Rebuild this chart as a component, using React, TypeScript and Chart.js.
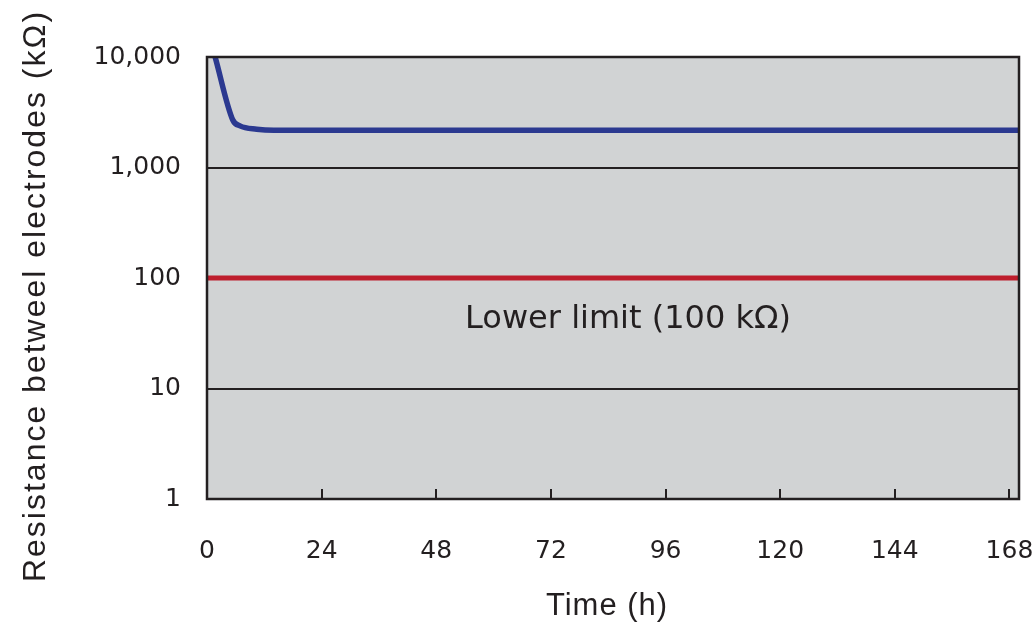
import React, { useEffect, useRef } from "react";
import { Chart, registerables } from "chart.js";

Chart.register(...registerables);

// Data
const timeHours = [1.7, 5.4, 6.9, 10.4, 14, 170];
const resistanceKOhm = [10000, 2690, 2380, 2220, 2170, 2170];
const limitHours = [0, 170];
const limitKOhm = [100, 100];
const xTickValues = [0, 24, 48, 72, 96, 120, 144, 168];
const yTickValues = [1, 10, 100, 1000, 10000];
const xTitle = "Time (h)";
const yTitle = "Resistance betweel electrodes (kΩ)";
const limitLabel = "Lower limit (100 kΩ)";

const INK = "#231f20";

const decorPlugin = {
  id: "decor",
  beforeDraw(chart: any) {
    const { ctx, chartArea } = chart;
    ctx.save();
    ctx.fillStyle = "#d1d3d4";
    ctx.fillRect(chartArea.left, chartArea.top, chartArea.right - chartArea.left, chartArea.bottom - chartArea.top);
    ctx.restore();
  },
  afterDraw(chart: any) {
    const { ctx, chartArea, scales } = chart;
    ctx.save();
    // inner tick marks on x axis
    ctx.strokeStyle = INK;
    ctx.lineWidth = 2;
    xTickValues.forEach((v) => {
      const px = Math.round(scales.x.getPixelForValue(v));
      ctx.beginPath();
      ctx.moveTo(px, chartArea.bottom);
      ctx.lineTo(px, chartArea.bottom - 10);
      ctx.stroke();
    });
    // frame
    ctx.lineWidth = 2.5;
    ctx.strokeRect(chartArea.left, chartArea.top, chartArea.right - chartArea.left, chartArea.bottom - chartArea.top);

    // annotation
    ctx.fillStyle = INK;
    ctx.font = "32px 'DejaVu Sans'";
    ctx.textAlign = "center";
    ctx.textBaseline = "alphabetic";
    const cx = (chartArea.left + chartArea.right) / 2 + 15;
    ctx.fillText(limitLabel, cx, scales.y.getPixelForValue(100) + 50);

    // axis titles
    (ctx as any).letterSpacing = "1px";
    ctx.font = "31px 'Liberation Sans'";
    ctx.fillText(xTitle, (chartArea.left + chartArea.right) / 2 - 6, 615);

    (ctx as any).letterSpacing = "2px";
    ctx.font = "32px 'Liberation Sans'";
    ctx.translate(45, 296);
    ctx.rotate(-Math.PI / 2);
    ctx.fillText(yTitle, 0, 0);
    ctx.restore();
  },
};

export default function App() {
  const ref = useRef<HTMLCanvasElement | null>(null);

  useEffect(() => {
    if (!ref.current) return;
    const chart = new Chart(ref.current, {
      type: "line",
      data: {
        datasets: [
          {
            label: "Lower limit",
            data: limitHours.map((x, i) => ({ x, y: limitKOhm[i] })),
            borderColor: "#be1e2d",
            borderWidth: 5,
            pointRadius: 0,
            clip: 0,
          },
          {
            label: "Resistance",
            data: timeHours.map((x, i) => ({ x, y: resistanceKOhm[i] })),
            borderColor: "#2b3990",
            borderWidth: 5.5,
            pointRadius: 0,
            cubicInterpolationMode: "monotone",
            clip: 0,
          },
        ],
      },
      options: {
        animation: false,
        responsive: false,
        devicePixelRatio: 1,
        layout: { padding: { top: 57, right: 16, left: 0, bottom: 0 } },
        plugins: {
          legend: { display: false },
          tooltip: { enabled: false },
        },
        scales: {
          x: {
            type: "linear",
            min: 0,
            max: 170,
            afterBuildTicks: (s: any) => {
              s.ticks = xTickValues.map((value) => ({ value }));
            },
            afterFit: (s: any) => {
              s.height = 127;
              s.paddingLeft = 0;
              s.paddingRight = 0;
            },
            ticks: {
              autoSkip: false,
              maxRotation: 0,
              padding: 37,
              color: INK,
              font: { family: "'DejaVu Sans'", size: 25 },
            },
            grid: { display: false, drawTicks: false },
            border: { display: false },
          },
          y: {
            type: "logarithmic",
            min: 1,
            max: 10000,
            afterBuildTicks: (s: any) => {
              s.ticks = yTickValues.map((value) => ({ value }));
            },
            afterFit: (s: any) => {
              s.width = 207;
              s.paddingTop = 0;
              s.paddingBottom = 0;
            },
            ticks: {
              padding: 26,
              color: INK,
              font: { family: "'DejaVu Sans'", size: 25 },
              callback: (v: any) => Number(v).toLocaleString("en-US"),
            },
            grid: { color: INK, lineWidth: 2, drawTicks: false },
            border: { display: false },
          },
        },
      },
      plugins: [decorPlugin],
    } as any);
    return () => chart.destroy();
  }, []);

  return (
    <div style={{ position: "fixed", left: 0, top: 0, width: 1035, height: 626, background: "#fff" }}>
      <canvas ref={ref} width={1035} height={626} style={{ display: "block" }} />
    </div>
  );
}
